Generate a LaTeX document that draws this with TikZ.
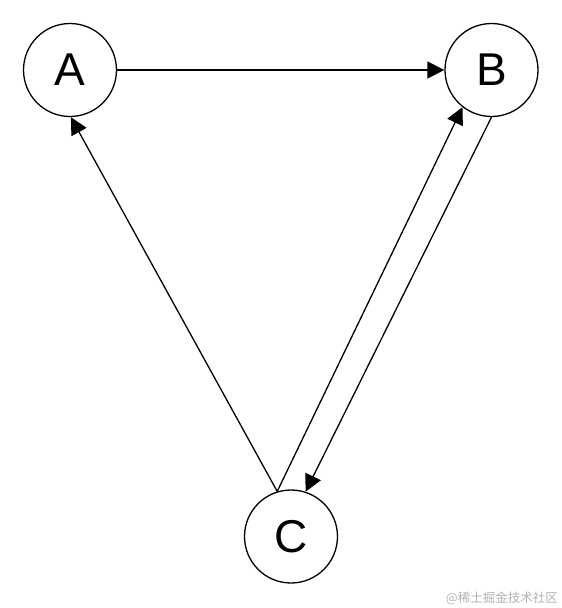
\documentclass[tikz,border=0pt]{standalone}
\usepackage{fontspec}
\setmainfont{Liberation Sans}
\newfontfamily\cjk{Noto Sans CJK SC}
\usetikzlibrary{arrows.meta}
\tikzset{
  vtx/.style={circle, draw, line width=1.3pt, minimum size=93pt, inner sep=0pt, font=\fontsize{46}{46}\selectfont},
  edge/.style={line width=1.3pt, -{Triangle[length=17pt,width=17pt]}},
}
\begin{document}
\begin{tikzpicture}[x=1pt,y=-1pt]
\useasboundingbox (0,0) rectangle (562,608);
\node[vtx] (A) at (70,70) {A};
\node[vtx] (B) at (491.5,70) {B};
\node[vtx] (C) at (291,536.5) {C};
\draw[edge] (A.east) -- (B.west);
\draw[edge] (C.107.5) -- (A.-89);
\draw[edge] (C.107.5) -- (B.232);
\draw[edge] (B.-90) -- (C.72);
\node[font=\cjk\fontsize{12.5}{12.5}\selectfont, text=black!30, anchor=east, inner sep=0pt] (wm) at (558,598) {@稀土掘金技术社区};
\end{tikzpicture}
\end{document}
